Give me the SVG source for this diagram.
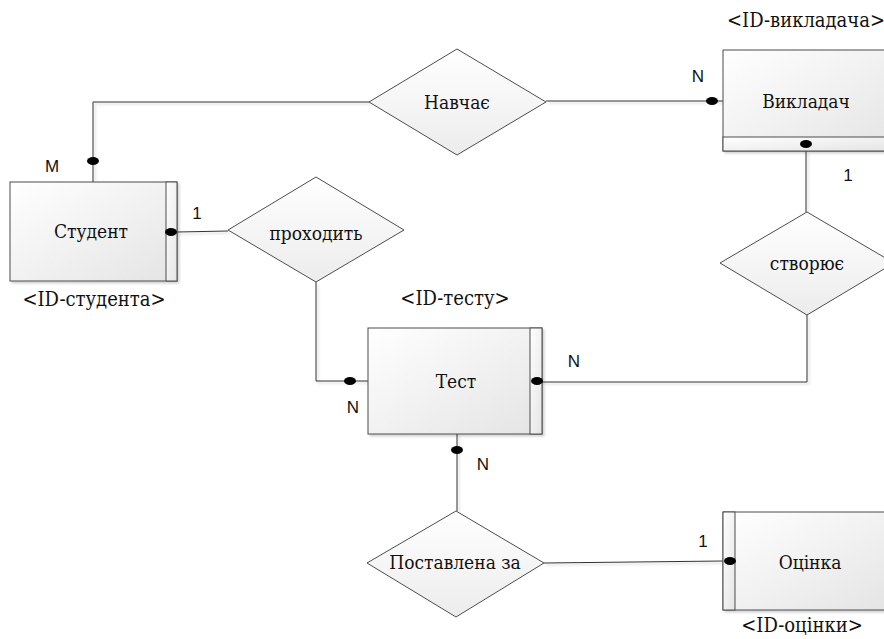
<svg xmlns="http://www.w3.org/2000/svg" width="884" height="639" viewBox="0 0 884 639">
<style>
.ent{fill:url(#gEnt);stroke:#4d4d4d;stroke-width:1}
.strip{fill:url(#gEnt);stroke:#4d4d4d;stroke-width:1}
.rel{fill:url(#gRel);stroke:#4d4d4d;stroke-width:1}
.name{font-family:'DejaVu Serif Condensed','DejaVu Serif',serif;font-stretch:condensed;font-size:19px;fill:#111;text-anchor:middle}
.idl{font-size:20px}
.card{font-family:'Liberation Sans',Arial,sans-serif;font-size:17px;fill:#111;text-anchor:middle}
.ln{fill:none;stroke:#333;stroke-width:1}
.dot{fill:#000}
</style>
<defs>
<linearGradient id="gEnt" x1="0" y1="0" x2="1" y2="1">
<stop offset="0" stop-color="#ffffff"/>
<stop offset="1" stop-color="#e4e4e4"/>
</linearGradient>
<linearGradient id="gRel" x1="0" y1="0" x2="0" y2="1">
<stop offset="0" stop-color="#ffffff"/>
<stop offset="1" stop-color="#ececec"/>
</linearGradient>
<filter id="sh" x="-5%" y="-5%" width="115%" height="115%">
<feDropShadow dx="2" dy="2" stdDeviation="0.8" flood-color="#000" flood-opacity="0.18"/>
</filter>
</defs>

<g id="connectors">
<g filter="url(#sh)">
<polyline class="ln" points="369,102 93,102 93,182"/>
<line class="ln" x1="546" y1="101" x2="723" y2="101"/>
<line class="ln" x1="177" y1="232" x2="228" y2="231"/>
<polyline class="ln" points="316,282 316,381 368,381"/>
<line class="ln" x1="806" y1="151" x2="806" y2="212"/>
<polyline class="ln" points="807,315 807,382 542,382"/>
<line class="ln" x1="457" y1="434" x2="457" y2="511"/>
<line class="ln" x1="544" y1="563" x2="723" y2="561"/>
</g>
<ellipse class="dot" cx="93" cy="161" rx="6" ry="4"/>
<ellipse class="dot" cx="712" cy="101" rx="6" ry="4"/>
<ellipse class="dot" cx="350" cy="381" rx="6" ry="4"/>
<ellipse class="dot" cx="457" cy="450" rx="6" ry="4"/>
<text class="card" x="52" y="172">M</text>
<text class="card" x="197" y="219">1</text>
<text class="card" x="698" y="82">N</text>
<text class="card" x="848" y="181">1</text>
<text class="card" x="574" y="367">N</text>
<text class="card" x="353" y="413">N</text>
<text class="card" x="483" y="470">N</text>
<text class="card" x="703" y="547">1</text>
</g>

<g id="student">
<rect class="ent" x="10" y="182" width="167" height="99" filter="url(#sh)"/>
<rect class="strip" x="166" y="182" width="11" height="99"/>
<ellipse class="dot" cx="171" cy="232" rx="6" ry="4"/>
<text class="name" x="91" y="238">Студент</text>
<text class="name idl" x="94" y="306">&lt;ID-студента&gt;</text>
</g>

<g id="teacher">
<rect class="ent" x="723" y="50" width="170" height="101" filter="url(#sh)"/>
<rect class="strip" x="723" y="137" width="170" height="14"/>
<ellipse class="dot" cx="806" cy="144" rx="6" ry="4"/>
<text class="name" x="806" y="108">Викладач</text>
<text class="name idl" x="806" y="27">&lt;ID-викладача&gt;</text>
</g>

<g id="test">
<rect class="ent" x="368" y="328" width="174" height="106" filter="url(#sh)"/>
<rect class="strip" x="530" y="328" width="12" height="106"/>
<ellipse class="dot" cx="537" cy="381" rx="6" ry="4"/>
<text class="name" x="456" y="388">Тест</text>
<text class="name idl" x="455" y="305">&lt;ID-тесту&gt;</text>
</g>

<g id="grade">
<rect class="ent" x="723" y="512" width="170" height="98" filter="url(#sh)"/>
<rect class="strip" x="723" y="512" width="12" height="98"/>
<ellipse class="dot" cx="730" cy="561" rx="6" ry="4"/>
<text class="name" x="810" y="569">Оцінка</text>
<text class="name idl" x="802" y="632">&lt;ID-оцінки&gt;</text>
</g>

<g id="rel-teaches">
<polygon class="rel" points="457,49 546,102 457,155 369,102"/>
<text class="name" x="457" y="109">Навчає</text>
</g>

<g id="rel-passes">
<polygon class="rel" points="316,177 404,230 316,282 228,230"/>
<text class="name" x="316" y="240">проходить</text>
</g>

<g id="rel-creates">
<polygon class="rel" points="807,212 894,263 807,315 720,263"/>
<text class="name" x="807" y="270">створює</text>
</g>

<g id="rel-given">
<polygon class="rel" points="456,511 544,563 456,617 367,563"/>
<text class="name" x="455" y="569">Поставлена за</text>
</g>
</svg>
